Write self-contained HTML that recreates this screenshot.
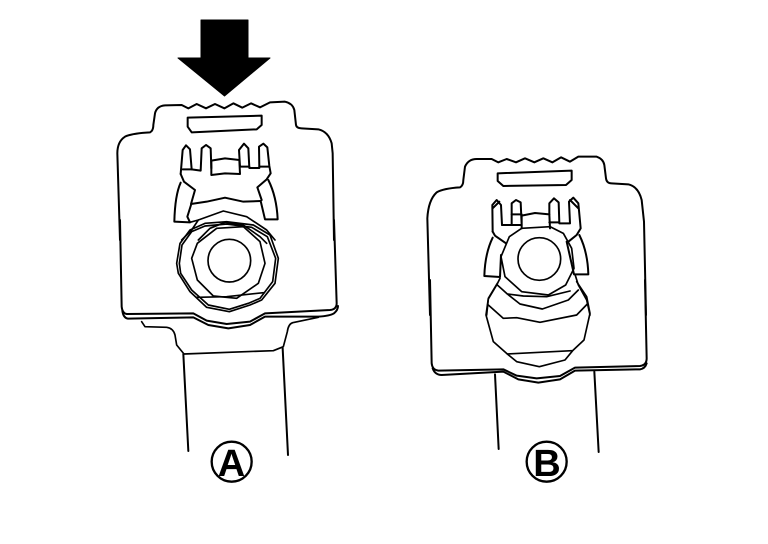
<!DOCTYPE html>
<html><head><meta charset="utf-8"><style>
html,body{margin:0;padding:0;background:#fff;width:768px;height:544px;overflow:hidden}
svg{display:block}
path,circle{fill:none;stroke:#000;stroke-linejoin:round;stroke-linecap:round}
text{font-family:"Liberation Sans",sans-serif;font-weight:bold;text-anchor:middle;fill:#000}
</style></head><body>
<svg width="768" height="544" viewBox="0 0 768 544" xmlns="http://www.w3.org/2000/svg">
<rect width="768" height="544" fill="#fff"/>
<path d="M201 20H248V58H270L224.500 96L178 58H201Z" style="fill:#000;stroke:#000;stroke-width:1"/>
<g transform="translate(110,10) scale(.33333)">
<path stroke-width="6" d="M30 690L22 430Q22 395 45 380Q65 370 120 367Q130 362 130 345L135 310Q140 288 165 286L215 285L235 295L260 282L288 295L315 282L343 295L370 280L397 293L423 280L450 292L480 277L525 275Q548 280 553 300L558 345Q560 355 575 355L625 358Q655 365 665 400L668 430L672 690"/>
<path stroke-width="6" d="M233 323L455 317V345L440 358L245 367L233 350Z"/>
<path stroke-width="6" d="M212 492L218 420L228 406L240 418L245 478L272 482L275 415L288 405L302 415L304 475"/>
<path stroke-width="6" d="M218 478H245M304 452L345 445L388 450L390 492L345 490L304 495ZM390 470H418M448 470H476"/>
<path stroke-width="6" d="M390 470L387 420L402 401L415 415L418 474H448L447 410L460 401L472 412L478 468L482 490L470 508L442 532L455 570"/>
<path stroke-width="6" d="M212 492L222 515L255 540L243 582L290 575L345 563L400 575L452 573"/>
<path stroke-width="6" d="M212 518Q195 555 193 635L240 637L232 620L243 585"/>
<path stroke-width="6" d="M475 510Q500 560 503 628H465L452 573"/>
<path stroke-width="5" d="M240 637L265 630L340 603L410 620L470 660L495 690M265 630L245 660L215 690M265 690L300 655L345 637L400 645L450 680L470 700"/>
</g>
<g transform="translate(110,220) scale(.33333)">
<path stroke-width="6" d="M30 0L35 260Q37 280 50 282L250 280L290 302L350 312L420 305L465 280L660 270Q680 268 680 250L672 0"/>
<path stroke-width="6" d="M37 272Q40 295 55 296L250 292L295 315L355 325L420 315L465 290L625 290Q660 288 672 280Q684 270 684 258"/>
<path stroke-width="5" d="M95 305L105 320L170 322Q190 325 195 345L200 375L222 402L490 392L520 380L532 335Q535 312 548 308L625 292"/>
<path stroke-width="6" d="M220 402L235 693M518 385L534 705"/>
<path stroke-width="5" d="M200 130L210 70L240 30L285 10L350 5L430 15L480 45L505 115L495 190L455 240L420 255L358 275L290 262L240 215L205 160Z"/>
<path stroke-width="5" d="M208 130L216 75L245 35L285 18L350 12L425 22L472 50L497 115L488 185L450 235L415 250L358 268L295 255L245 210L212 160Z"/>
<path stroke-width="5" d="M245 115L262 70L320 25L400 20L450 65L465 130L445 190L380 235L310 228L262 180Z"/>
<path stroke-width="5" d="M260 232L350 230L460 218"/>
<circle cx="358" cy="122" r="64" stroke-width="5"/>
<circle cx="365" cy="725" r="60" stroke-width="7"/>
</g>
<g transform="translate(420,145) scale(.33333)">
<path stroke-width="6" d="M30 510L22 220Q25 165 50 142Q70 130 120 127Q130 122 130 105L135 65Q145 42 170 42H215L235 52L260 42L288 52L315 40L343 52L370 40L397 52L423 37L450 50L475 35H530Q550 42 553 60L558 100Q560 115 575 115L625 118Q655 125 665 165L672 230L678 510"/>
<path stroke-width="6" d="M233 85L455 77V105L438 120L250 123L233 108Z"/>
<path stroke-width="6" d="M218 260L217 180L230 165L243 180L246 240H275L275 175L288 165L302 172L305 240M218 190L238 170M305 212L345 204L388 208L390 250M305 212V250"/>
<path stroke-width="6" d="M388 208V175L402 160L416 172L418 235H450L447 170L460 158L475 175L482 250L470 270L445 290M450 165L475 190M388 232H418M275 208H305"/>
<path stroke-width="6" d="M218 260L225 272L258 295M246 240H305"/>
<path stroke-width="6" d="M218 278Q195 325 193 393L240 396L243 330"/>
<path stroke-width="6" d="M478 270Q503 320 505 388H462L440 290"/>
<path stroke-width="5" d="M243 335L268 275L305 250L390 245L430 265L455 310L462 370L437 420L385 450L305 440L255 395Z"/>
<circle cx="358" cy="342" r="64" stroke-width="5"/>
<path stroke-width="5" d="M240 400L230 420L205 462L200 510M465 388L475 420L500 465L510 510"/>
</g>
<g transform="translate(420,280) scale(.33333)">
<path stroke-width="6" d="M30 0L35 250Q37 270 55 272L250 268L290 287L350 295L420 288L465 263L660 258Q680 255 680 235L675 0"/>
<path stroke-width="6" d="M38 265Q45 285 65 285L250 275L295 298L355 308L420 298L465 272L660 268Q675 266 680 250"/>
<path stroke-width="6" d="M225 283L236 507M523 275L536 516"/>
<path stroke-width="5" d="M232 10L205 55L198 105L220 185L262 222L290 245L358 260L435 240L458 212L492 180L510 100L500 50L470 5"/>
<path stroke-width="5" d="M205 75L250 115L290 113L360 127L470 105L502 72M262 222L455 212M232 15L262 42L300 72L367 87L445 60L475 30M262 42L310 48L380 50L450 33"/>
<circle cx="380" cy="545" r="60" stroke-width="7"/>
</g>
<text x="231.500" y="476" font-size="38">A</text>
<text x="547" y="476" font-size="38">B</text>
</svg>
</body></html>
